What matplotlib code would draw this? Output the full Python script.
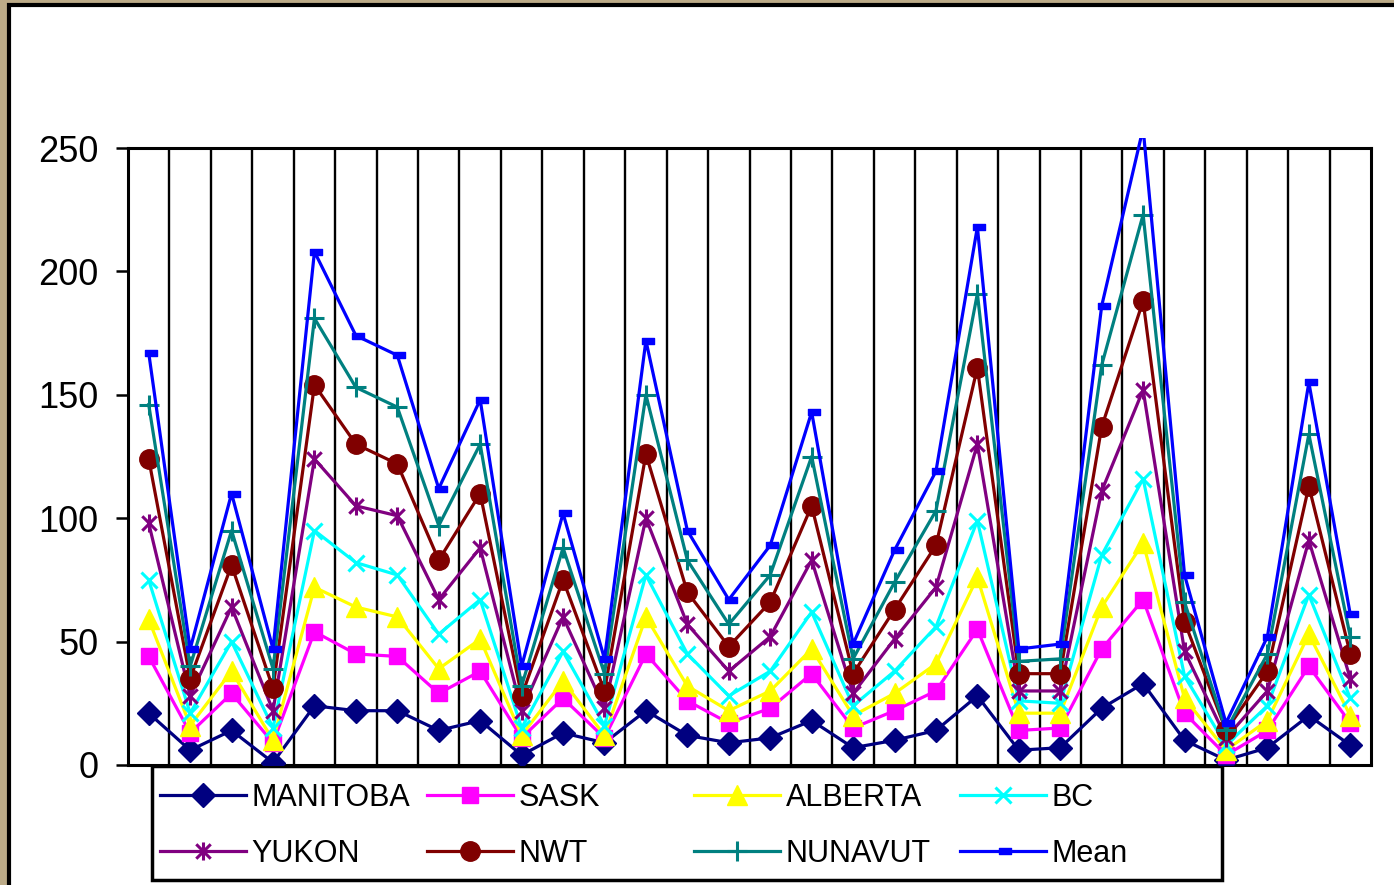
import matplotlib
matplotlib.use("Agg")
import matplotlib.pyplot as plt
from matplotlib.path import Path
from matplotlib.patches import Rectangle

plt.rcParams['font.family'] = ['Liberation Sans', 'DejaVu Sans']

# 30 sampling periods
periods = list(range(1, 31))

manitoba = [21, 6, 14, 1, 24, 22, 22, 14, 18, 4, 13, 9, 22, 12, 9, 11, 18, 7, 10, 14,
            28, 6, 7, 23, 33, 10, 2, 7, 20, 8]
sask = [44, 13, 29, 9, 54, 45, 44, 29, 38, 11, 27, 11, 45, 26, 17, 23, 37, 15, 22, 30,
        55, 14, 15, 47, 67, 21, 4, 14, 40, 17]
alberta = [59, 16, 38, 10, 72, 64, 60, 39, 51, 12, 34, 12, 60, 32, 22, 30, 47, 20, 29, 41,
           76, 21, 21, 64, 90, 27, 6, 18, 53, 20]
bc = [75, 21, 50, 15, 95, 82, 77, 53, 67, 15, 46, 16, 77, 45, 28, 38, 62, 24, 38, 56,
      99, 26, 25, 85, 116, 36, 8, 24, 69, 27]
yukon = [98, 28, 64, 22, 124, 105, 101, 67, 88, 22, 60, 23, 100, 57, 38, 52, 83, 29, 51, 72,
         130, 30, 30, 111, 152, 46, 11, 30, 91, 35]
nwt = [124, 35, 81, 31, 154, 130, 122, 83, 110, 28, 75, 30, 126, 70, 48, 66, 105, 37, 63, 89,
       161, 37, 37, 137, 188, 58, 14, 38, 113, 45]
nunavut = [146, 40, 95, 39, 181, 153, 145, 97, 130, 32, 88, 37, 150, 83, 57, 77, 125, 43, 74, 103,
           191, 42, 43, 162, 223, 66, 14, 45, 134, 52]
mean = [167, 47, 110, 47, 208, 174, 166, 112, 148, 40, 102, 43, 172, 95, 67, 89, 143, 49, 87, 119,
        218, 47, 49, 186, 258, 77, 17, 52, 155, 61]

names = ["MANITOBA", "SASK", "ALBERTA", "BC", "YUKON", "NWT", "NUNAVUT", "Mean"]

# star marker: vertical bar plus an x
star = Path([(0, -1), (0, 1), (-0.8, -0.8), (0.8, 0.8), (-0.8, 0.8), (0.8, -0.8)],
            [Path.MOVETO, Path.LINETO, Path.MOVETO, Path.LINETO, Path.MOVETO, Path.LINETO])
# short bar, sitting a little right of the point
dash = Path([(-0.7, -0.45), (1.3, -0.45), (1.3, 0.45), (-0.7, 0.45), (-0.7, -0.45)],
            [Path.MOVETO, Path.LINETO, Path.LINETO, Path.LINETO, Path.CLOSEPOLY])

styles = [
    dict(color="#000080", marker="D", ms=12),
    dict(color="#ff00ff", marker="s", ms=12),
    dict(color="#ffff00", marker="^", ms=15),
    dict(color="#00ffff", marker="x", ms=11, mew=2.2),
    dict(color="#800080", marker=star, ms=13, mew=2.2),
    dict(color="#800000", marker="o", ms=14),
    dict(color="#008080", marker="+", ms=14, mew=2.2),
    dict(color="#0000ff", marker=dash, ms=12),
]

fig = plt.figure(figsize=(13.94, 8.85), dpi=100)
fig.patch.set_facecolor("#bcab88")
fig.patches.append(Rectangle((9 / 1394, -0.05), 1.1, 1.05 - 5 / 885, transform=fig.transFigure,
                             facecolor="white", edgecolor="black", linewidth=3, zorder=-2))

ax = fig.add_axes([128 / 1394, 1 - 765 / 885, (1371 - 128) / 1394, (765 - 148) / 885])
ax.set_zorder(2)
ax.set_facecolor("white")

# plot region, with a little headroom for lines that run past 250
clip = Rectangle((0, 0), 1, 1 + 10 / 617, transform=ax.transAxes, visible=False)
ax.add_patch(clip)

x = list(range(len(periods)))
series = [manitoba, sask, alberta, bc, yukon, nwt, nunavut, mean]
handles = []
for name, vals, st in zip(names, series, styles):
    h, = ax.plot(x, vals, label=name, lw=2.3, zorder=3, **st)
    h.set_clip_path(clip)
    handles.append(h)

ax.set_xlim(-0.5, len(periods) - 0.5)
ax.set_ylim(0, 250)
ax.set_yticks(range(0, 251, 50))
ax.set_xticks([])
for b in range(1, len(periods)):
    ax.axvline(b - 0.5, color="black", lw=1.7, zorder=1)
for s in ax.spines.values():
    s.set_linewidth(2.2)
ax.tick_params(axis="y", labelsize=26, length=9, width=1.8, pad=12, direction="out")

# legend frame and four columns
fig.patches.append(Rectangle((152 / 1394, 1 - 880 / 885), (1222 - 152) / 1394, 114 / 885,
                             transform=fig.transFigure, facecolor="white",
                             edgecolor="black", linewidth=2.5, zorder=1))
col_x = [160, 427, 694, 960]
for i, cx in enumerate(col_x):
    leg = fig.legend([handles[i], handles[i + 4]], [names[i], names[i + 4]],
                     loc="upper left", bbox_to_anchor=(cx / 1394, 1 - 783 / 885),
                     frameon=False, fontsize=22, handlelength=2.8, handletextpad=0.2,
                     labelspacing=0.85, borderpad=0, borderaxespad=0)
    leg.set_zorder(5)

fig.savefig("out.png", dpi=100, facecolor=fig.get_facecolor())
